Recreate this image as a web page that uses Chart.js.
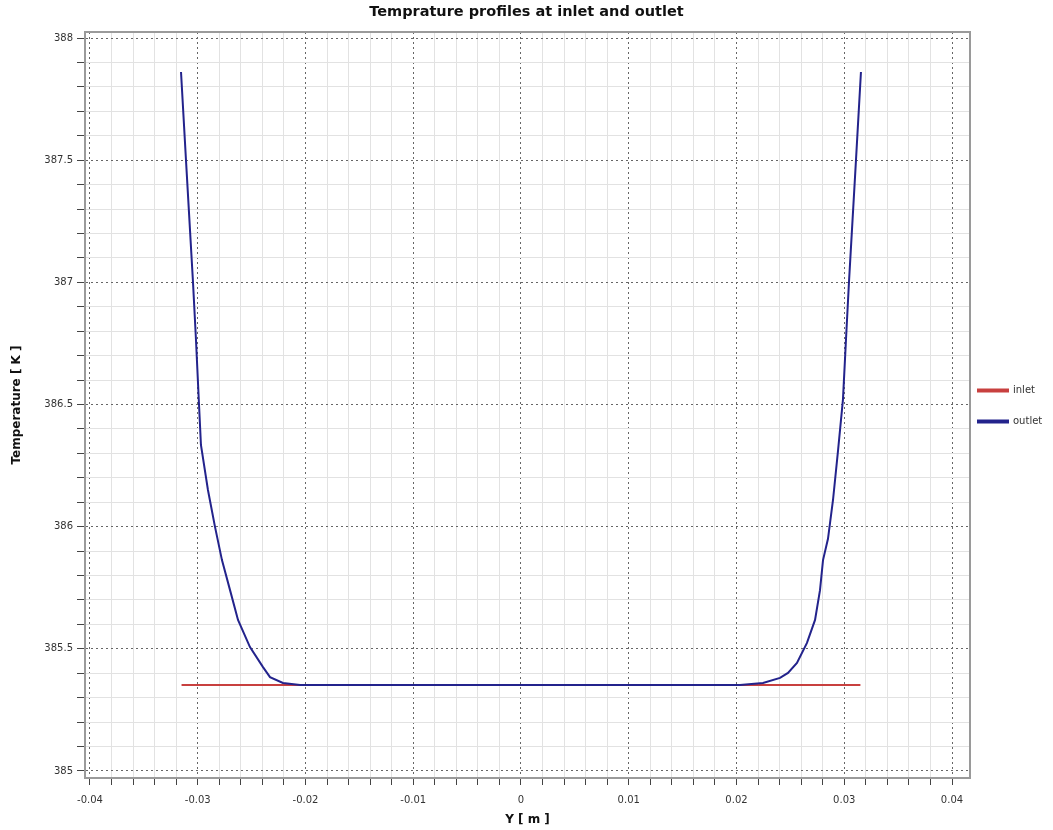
<!DOCTYPE html>
<html>
<head>
<meta charset="utf-8">
<script src="https://cdn.jsdelivr.net/npm/chart.js@4"></script>
<style>
  body { margin: 0; background: #fff; }
  #wrap { width: 1053px; height: 830px; }
</style>
</head>
<body>
<div id="wrap"><canvas id="tempChart"></canvas></div>
<script>
// position across the channel [m]
const outletY = [-0.03155, -0.03109, -0.03044, -0.03016, -0.02988, -0.0297, -0.02905, -0.0284,
  -0.02775, -0.0270, -0.02626, -0.02515, -0.02394, -0.02329, -0.02209, -0.0205, -0.019,
  -0.01, 0, 0.01, 0.02032, 0.02246, 0.02404, 0.02478, 0.02561, 0.02654, 0.02729, 0.02775,
  0.02803, 0.02849, 0.02896, 0.02942, 0.02988, 0.03016, 0.03044, 0.03109, 0.03155];
// temperature [K]
const outletT = [387.861, 387.501, 387.002, 386.764, 386.5, 386.334, 386.15, 386.0,
  385.863, 385.74, 385.618, 385.507, 385.425, 385.384, 385.36, 385.352, 385.352,
  385.352, 385.352, 385.352, 385.352, 385.36, 385.381, 385.401, 385.442, 385.524, 385.618, 385.74,
  385.863, 385.95, 386.11, 386.31, 386.52, 386.765, 387.002, 387.501, 387.861];

const inletY = [-0.0315, 0, 0.0315];
const inletT = [385.352, 385.352, 385.352];

const xTickLabels = [-0.04, -0.03, -0.02, -0.01, 0, 0.01, 0.02, 0.03, 0.04];
const yTickLabels = [385, 385.5, 386, 386.5, 387, 387.5, 388];

const pts = (xs, ys) => xs.map((x, i) => ({ x: x, y: ys[i] }));
const isMajor = (v, list) => list.some(t => Math.abs(t - v) < 1e-7);

const txt = '#333';
const font = { family: 'DejaVu Sans', size: 10 };

// plot frame around the chart area
const framePlugin = {
  id: 'frame',
  afterDraw(chart) {
    const { ctx, chartArea: a } = chart;
    ctx.save();
    ctx.strokeStyle = '#9a9a9a';
    ctx.lineWidth = 2;
    ctx.strokeRect(a.left, a.top, a.right - a.left, a.bottom - a.top);
    ctx.restore();
  }
};

// nudge the legend box so its items sit where the original ones do
const legendNudge = {
  id: 'legendNudge',
  afterLayout(chart) {
    const l = chart.legend;
    if (!l) return;
    l.left -= 13;
    l.width += 13;
    l.top -= 9; l.bottom -= 9;
  }
};

new Chart(document.getElementById('tempChart'), {
  type: 'scatter',
  data: {
    datasets: [
      {
        label: 'inlet',
        data: pts(inletY, inletT),
        showLine: true,
        borderColor: '#c8403f',
        backgroundColor: '#c8403f',
        borderWidth: 2,
        pointRadius: 0,
        order: 1
      },
      {
        label: 'outlet',
        data: pts(outletY, outletT),
        showLine: true,
        borderColor: '#23238c',
        backgroundColor: '#23238c',
        borderWidth: 2,
        pointRadius: 0,
        order: 0
      }
    ]
  },
  options: {
    responsive: true,
    maintainAspectRatio: false,
    animation: false,
    layout: { padding: 0 },
    plugins: {
      title: {
        display: true,
        text: 'Temprature profiles at inlet and outlet',
        color: '#111',
        font: { family: 'DejaVu Sans', size: 14.5, weight: 'bold' },
        padding: { top: 4, bottom: 10.6 }
      },
      legend: {
        position: 'right',
        maxWidth: 83,
        labels: {
          boxWidth: 30,
          boxHeight: 2,
          padding: 21,
          color: txt,
          font: font,
          sort: (a, b) => a.datasetIndex - b.datasetIndex
        }
      },
      tooltip: { enabled: false }
    },
    scales: {
      x: {
        type: 'linear',
        min: -0.04046,
        max: 0.04167,
        afterFit: s => { s.height = 52; },
        ticks: {
          stepSize: 0.002,
          maxTicksLimit: 100,
          includeBounds: false,
          autoSkip: false,
          maxRotation: 0,
          padding: 9,
          color: txt,
          font: font,
          callback: v => isMajor(v, xTickLabels) ? String(Math.round(v * 100) / 100) : ''
        },
        grid: {
          color: c => c.tick && isMajor(c.tick.value, xTickLabels) ? '#666' : '#e2e2e2',
          lineWidth: 1,
          tickLength: 7,
          tickColor: '#444',
          tickBorderDash: []
        },
        border: {
          color: '#444',
          width: 2,
          dash: c => c.tick && isMajor(c.tick.value, xTickLabels) ? [2, 3] : []
        },
        title: {
          display: true,
          text: 'Y [ m ]',
          color: '#111',
          font: { family: 'DejaVu Sans', size: 12, weight: 'bold' },
          padding: { top: 0, bottom: 3 }
        }
      },
      y: {
        type: 'linear',
        min: 384.971,
        max: 388.0246,
        afterFit: s => { s.width = 85; },
        ticks: {
          stepSize: 0.1,
          maxTicksLimit: 100,
          includeBounds: false,
          autoSkip: false,
          padding: 4,
          color: txt,
          font: font,
          callback: v => isMajor(v, yTickLabels) ? String(Math.round(v * 10) / 10) : ''
        },
        grid: {
          color: c => c.tick && isMajor(c.tick.value, yTickLabels) ? '#666' : '#e2e2e2',
          lineWidth: 1,
          tickLength: 8,
          tickColor: '#444',
          tickBorderDash: []
        },
        border: {
          color: '#444',
          width: 2,
          dash: c => c.tick && isMajor(c.tick.value, yTickLabels) ? [2, 3] : []
        },
        title: {
          display: true,
          text: 'Temperature [ K ]',
          color: '#111',
          font: { family: 'DejaVu Sans', size: 12, weight: 'bold' },
          padding: { top: 10, bottom: 0 }
        }
      }
    }
  },
  plugins: [framePlugin, legendNudge]
});
</script>
</body>
</html>
